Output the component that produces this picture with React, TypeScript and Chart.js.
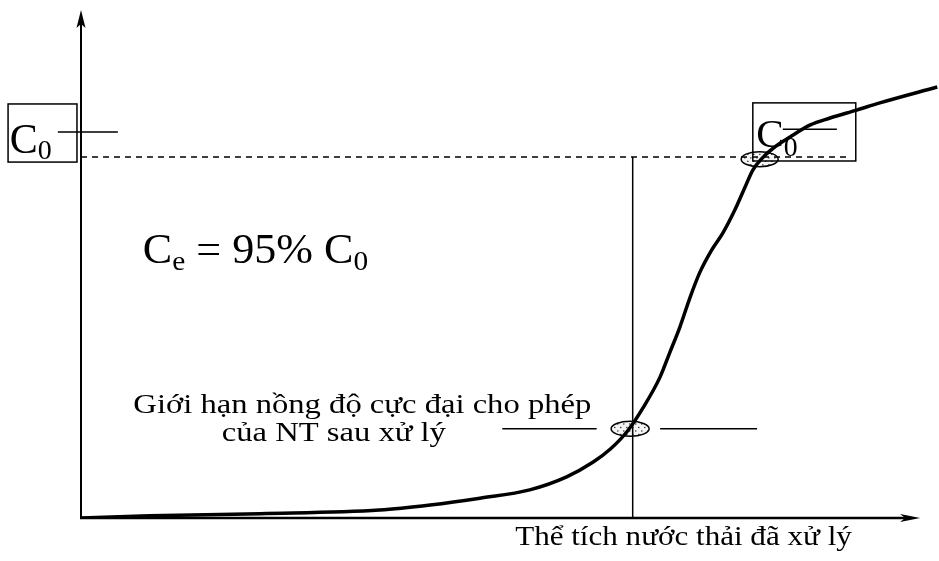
import React, { useEffect, useRef } from "react";
import { Chart, registerables } from "chart.js";

Chart.register(...registerables);

// Breakthrough curve: treated volume (arbitrary units, 0-100) vs outlet concentration (% of C0)
const volume = [0, 8.0, 20.9, 34.8, 40.7, 46.5, 52.3, 56.6, 59.7, 61.7, 63.7, 65.5, 67.5, 68.6, 69.8, 71.0, 72.1, 73.5, 74.8, 76.2, 77.4, 78.3, 79.4, 80.7, 82.6, 85.0, 87.3, 90.4, 93.1, 99.8];
const concentration = [0, 0.6, 1.2, 2.2, 3.6, 5.5, 7.8, 11.4, 15.5, 19.1, 24.1, 30.5, 39.1, 45.7, 52.9, 61.2, 67.9, 74.2, 78.9, 85.3, 91.7, 96.4, 99.7, 102.5, 105.5, 108.9, 110.8, 113.0, 115.0, 119.4];

const C0_LEVEL = 100;
const C0_LINE_END = 89.6;
const BREAKTHROUGH_VOLUME = 64.3;
const LIMIT_LEVEL = 24.7;
const LIMIT_LEFT = [49.1, 60.1];
const LIMIT_RIGHT = [67.5, 78.8];
const SATURATION_VOLUME = 79.1;
const X_MAX = 100;
const Y_MAX = 143.5;
const X_ARROW = 97.8;
const Y_ARROW = 140.7;

const xLabel = "Thể tích nước thải đã xử lý";
const limitLabel1 = "Giới hạn nồng độ cực đại cho phép";
const limitLabel2 = "của NT sau xử lý";

const SERIF = '"Liberation Serif", "Times New Roman", serif';

function drawParts(ctx: CanvasRenderingContext2D, x: number, y: number, sx: number, parts: [string, number, number][]) {
  ctx.save();
  ctx.translate(x, y);
  ctx.scale(sx, 1);
  let cx = 0;
  for (const [t, size, dy] of parts) {
    ctx.font = `${size}px ${SERIF}`;
    ctx.fillText(t, cx, dy);
    cx += ctx.measureText(t).width;
  }
  ctx.restore();
}

function ellipse(ctx: CanvasRenderingContext2D, cx: number, cy: number, rx: number, ry: number) {
  ctx.save();
  ctx.beginPath();
  ctx.ellipse(cx, cy, rx, ry, 0, 0, Math.PI * 2);
  ctx.fillStyle = "#f4f4f4";
  ctx.fill();
  ctx.clip();
  ctx.fillStyle = "#333";
  let row = 0;
  for (let dy = -ry + 2; dy < ry; dy += 3.5) {
    for (let dx = -rx + (row % 2 ? 3 : 6); dx < rx; dx += 6) {
      ctx.fillRect(cx + dx, cy + dy, 1.3, 1.3);
    }
    row++;
  }
  ctx.restore();
  ctx.beginPath();
  ctx.ellipse(cx, cy, rx, ry, 0, 0, Math.PI * 2);
  ctx.lineWidth = 1.5;
  ctx.strokeStyle = "#000";
  ctx.stroke();
}

const overlay = {
  id: "overlay",
  beforeDatasetsDraw(chart: any) {
    const ctx: CanvasRenderingContext2D = chart.ctx;
    const X = (v: number) => chart.scales.x.getPixelForValue(v);
    const Y = (v: number) => chart.scales.y.getPixelForValue(v);
    ellipse(ctx, X(64.0), Y(LIMIT_LEVEL), 19, 7.5);
    ellipse(ctx, X(SATURATION_VOLUME), Y(C0_LEVEL - 0.6), 18.5, 7.5);
  },
  afterDatasetsDraw(chart: any) {
    const ctx: CanvasRenderingContext2D = chart.ctx;
    const X = (v: number) => chart.scales.x.getPixelForValue(v);
    const Y = (v: number) => chart.scales.y.getPixelForValue(v);
    ctx.save();
    ctx.strokeStyle = "#000";
    ctx.fillStyle = "#000";
    // axes
    const x0 = X(0), y0 = Y(0);
    ctx.lineWidth = 2;
    ctx.beginPath();
    ctx.moveTo(x0, y0 + 1);
    ctx.lineTo(x0, Y(Y_ARROW) + 10);
    ctx.stroke();
    ctx.lineWidth = 2.5;
    ctx.beginPath();
    ctx.moveTo(x0 - 1, y0);
    ctx.lineTo(X(X_ARROW) - 12, y0);
    ctx.stroke();
    // y arrow
    const ty = Y(Y_ARROW);
    ctx.beginPath();
    ctx.moveTo(x0, ty);
    ctx.lineTo(x0 + 4.5, ty + 18);
    ctx.lineTo(x0, ty + 14);
    ctx.lineTo(x0 - 4.5, ty + 18);
    ctx.closePath();
    ctx.fill();
    // x arrow
    const tx = X(X_ARROW);
    ctx.beginPath();
    ctx.moveTo(tx, y0);
    ctx.lineTo(tx - 20, y0 - 4);
    ctx.lineTo(tx - 15, y0);
    ctx.lineTo(tx - 20, y0 + 4);
    ctx.closePath();
    ctx.fill();

    // C0 boxes
    ctx.lineWidth = 1.5;
    ctx.strokeRect(X(-8.5), Y(114.7), X(-0.47) - X(-8.5), Y(98.6) - Y(114.7));
    ctx.strokeRect(X(78.3), Y(115.0), X(90.3) - X(78.3), Y(98.9) - Y(115.0));
    ctx.beginPath();
    ctx.moveTo(X(-2.7), Y(106.9));
    ctx.lineTo(X(4.3), Y(106.9));
    ctx.moveTo(X(81.8), Y(107.7));
    ctx.lineTo(X(88.1), Y(107.7));
    ctx.stroke();

    ctx.textBaseline = "alphabetic";
    ctx.textAlign = "left";
    drawParts(ctx, X(-8.3), Y(101.1), 1, [["C", 42, 0], ["0", 28, 6]]);
    drawParts(ctx, X(78.7), Y(102.8), 1.03, [["C", 40, 0], ["0", 27, 9]]);
    drawParts(ctx, X(7.2), Y(70.6), 1.05, [["C", 42, 0], ["e", 28, 7], [" = 95% C", 42, 0], ["0", 28, 7]]);

    drawParts(ctx, X(6.1), Y(29.2), 1.165, [[limitLabel1, 28, 0]]);
    drawParts(ctx, X(16.4), Y(21.4), 1.165, [[limitLabel2, 28, 0]]);
    drawParts(ctx, X(50.6), Y(-7.5), 1.11, [[xLabel, 28, 0]]);
    ctx.restore();
  },
};

export default function App() {
  const ref = useRef<HTMLCanvasElement>(null);
  useEffect(() => {
    document.body.style.margin = "0";
    const curve = volume.map((v, i) => ({ x: v, y: concentration[i] }));
    const chart = new Chart(ref.current!, {
      type: "scatter",
      data: {
        datasets: [
          {
            data: [{ x: 0, y: C0_LEVEL }, { x: C0_LINE_END, y: C0_LEVEL }],
            showLine: true,
            borderColor: "#000",
            borderWidth: 1.3,
            borderDash: [6, 5],
            pointRadius: 0,
          },
          {
            data: [{ x: BREAKTHROUGH_VOLUME, y: 0 }, { x: BREAKTHROUGH_VOLUME, y: C0_LEVEL }],
            showLine: true,
            borderColor: "#000",
            borderWidth: 1.5,
            pointRadius: 0,
          },
          {
            data: [{ x: LIMIT_LEFT[0], y: LIMIT_LEVEL }, { x: LIMIT_LEFT[1], y: LIMIT_LEVEL }],
            showLine: true,
            borderColor: "#000",
            borderWidth: 1.5,
            pointRadius: 0,
          },
          {
            data: [{ x: LIMIT_RIGHT[0], y: LIMIT_LEVEL }, { x: LIMIT_RIGHT[1], y: LIMIT_LEVEL }],
            showLine: true,
            borderColor: "#000",
            borderWidth: 1.5,
            pointRadius: 0,
          },
          {
            data: curve,
            showLine: true,
            borderColor: "#000",
            borderWidth: 3.5,
            pointRadius: 0,
            cubicInterpolationMode: "monotone",
          } as any,
        ],
      },
      options: {
        animation: false,
        responsive: false,
        layout: { padding: { left: 81, right: 0, top: 0, bottom: 43 } },
        scales: {
          x: { type: "linear", min: 0, max: X_MAX, display: false },
          y: { type: "linear", min: 0, max: Y_MAX, display: false },
        },
        plugins: { legend: { display: false }, tooltip: { enabled: false } },
      },
      plugins: [overlay],
    });
    return () => chart.destroy();
  }, []);
  return (
    <div style={{ position: "absolute", left: 0, top: 0, width: 939, height: 561, background: "#fff" }}>
      <canvas ref={ref} width={939} height={561} />
    </div>
  );
}
